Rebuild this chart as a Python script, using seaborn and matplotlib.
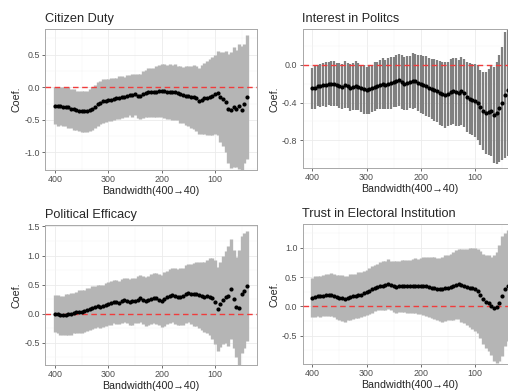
import numpy as np
import pandas as pd
import matplotlib
matplotlib.use("Agg")
import matplotlib.pyplot as plt
from matplotlib.ticker import FixedLocator, FormatStrFormatter
import seaborn as sns

# bandwidth grid, 400 -> 40
bandwidth = list(range(400, 35, -5))

duty_coef = [-0.28, -0.29, -0.29, -0.30, -0.30, -0.31, -0.33, -0.34, -0.35, -0.36,
             -0.37, -0.37, -0.37, -0.35, -0.33, -0.30, -0.26, -0.24, -0.21, -0.21,
             -0.20, -0.19, -0.18, -0.17, -0.16, -0.15, -0.15, -0.13, -0.12, -0.12,
             -0.11, -0.13, -0.14, -0.11, -0.09, -0.08, -0.08, -0.08, -0.07, -0.06,
             -0.05, -0.06, -0.07, -0.07, -0.08, -0.08, -0.09, -0.11, -0.12, -0.13,
             -0.14, -0.15, -0.15, -0.17, -0.21, -0.19, -0.17, -0.16, -0.15, -0.13,
             -0.11, -0.09, -0.15, -0.18, -0.22, -0.33, -0.35, -0.30, -0.33, -0.29,
             -0.35, -0.25, -0.15]
duty_ci = [0.29, 0.30, 0.29, 0.30, 0.30, 0.31, 0.30, 0.31, 0.30, 0.31,
           0.31, 0.31, 0.32, 0.32, 0.33, 0.33, 0.34, 0.33, 0.34, 0.33,
           0.32, 0.33, 0.33, 0.32, 0.33, 0.32, 0.31, 0.32, 0.31, 0.33,
           0.32, 0.34, 0.34, 0.36, 0.36, 0.37, 0.38, 0.38, 0.39, 0.40,
           0.40, 0.41, 0.41, 0.42, 0.42, 0.43, 0.42, 0.44, 0.43, 0.45,
           0.46, 0.47, 0.49, 0.50, 0.51, 0.53, 0.55, 0.57, 0.59, 0.60,
           0.61, 0.64, 0.69, 0.72, 0.78, 0.84, 0.89, 0.92, 0.90, 0.96,
           0.99, 0.91, 0.95]

interest_coef = [-0.25, -0.24, -0.22, -0.22, -0.21, -0.21, -0.20, -0.20, -0.20, -0.21,
                 -0.22, -0.23, -0.21, -0.22, -0.24, -0.23, -0.22, -0.23, -0.25, -0.26,
                 -0.27, -0.26, -0.25, -0.23, -0.22, -0.21, -0.20, -0.21, -0.20, -0.19,
                 -0.18, -0.17, -0.16, -0.18, -0.20, -0.19, -0.18, -0.17, -0.17, -0.19,
                 -0.20, -0.21, -0.22, -0.24, -0.26, -0.27, -0.28, -0.30, -0.31, -0.32,
                 -0.31, -0.29, -0.28, -0.29, -0.30, -0.28, -0.30, -0.34, -0.36, -0.37,
                 -0.38, -0.40, -0.45, -0.49, -0.51, -0.50, -0.49, -0.53, -0.51, -0.46,
                 -0.41, -0.32, -0.27]
interest_ci = [0.22, 0.23, 0.22, 0.23, 0.23, 0.24, 0.23, 0.24, 0.24, 0.23,
               0.24, 0.24, 0.25, 0.24, 0.25, 0.25, 0.26, 0.25, 0.25, 0.26,
               0.25, 0.26, 0.25, 0.26, 0.25, 0.26, 0.27, 0.26, 0.27, 0.28,
               0.27, 0.28, 0.28, 0.29, 0.28, 0.29, 0.28, 0.30, 0.29, 0.30,
               0.31, 0.31, 0.32, 0.31, 0.32, 0.33, 0.33, 0.34, 0.34, 0.35,
               0.34, 0.35, 0.35, 0.36, 0.35, 0.36, 0.36, 0.37, 0.38, 0.38,
               0.39, 0.40, 0.40, 0.42, 0.44, 0.46, 0.48, 0.51, 0.54, 0.57,
               0.60, 0.67, 0.70]

efficacy_coef = [0.00, -0.01, -0.03, -0.03, -0.02, -0.01, 0.00, 0.01, 0.02, 0.03,
                 0.03, 0.05, 0.07, 0.08, 0.10, 0.12, 0.13, 0.12, 0.13, 0.15,
                 0.17, 0.18, 0.20, 0.20, 0.19, 0.21, 0.24, 0.22, 0.20, 0.21,
                 0.22, 0.24, 0.26, 0.23, 0.21, 0.23, 0.25, 0.27, 0.26, 0.24,
                 0.22, 0.25, 0.28, 0.30, 0.32, 0.30, 0.28, 0.29, 0.30, 0.33,
                 0.36, 0.34, 0.33, 0.33, 0.32, 0.30, 0.28, 0.30, 0.29, 0.26,
                 0.20, 0.08, 0.16, 0.24, 0.28, 0.30, 0.42, 0.25, 0.12, 0.10,
                 0.33, 0.39, 0.47]
efficacy_ci = [0.32, 0.33, 0.34, 0.34, 0.35, 0.35, 0.36, 0.35, 0.36, 0.37,
               0.37, 0.36, 0.37, 0.36, 0.37, 0.36, 0.36, 0.37, 0.36, 0.37,
               0.37, 0.38, 0.37, 0.38, 0.37, 0.38, 0.38, 0.39, 0.39, 0.40,
               0.39, 0.40, 0.40, 0.41, 0.42, 0.42, 0.43, 0.43, 0.44, 0.44,
               0.45, 0.46, 0.46, 0.47, 0.47, 0.48, 0.48, 0.49, 0.49, 0.50,
               0.50, 0.52, 0.54, 0.55, 0.57, 0.58, 0.60, 0.63, 0.66, 0.69,
               0.72, 0.73, 0.73, 0.76, 0.79, 0.86, 0.86, 0.85, 0.86, 1.00,
               1.00, 0.99, 0.95]

trust_coef = [0.15, 0.16, 0.18, 0.17, 0.18, 0.19, 0.19, 0.20, 0.18, 0.16,
              0.15, 0.14, 0.13, 0.14, 0.16, 0.17, 0.18, 0.19, 0.20, 0.22,
              0.24, 0.26, 0.29, 0.31, 0.33, 0.34, 0.35, 0.36, 0.38, 0.36,
              0.34, 0.33, 0.34, 0.35, 0.35, 0.34, 0.34, 0.35, 0.35, 0.34,
              0.35, 0.35, 0.34, 0.33, 0.32, 0.31, 0.30, 0.29, 0.29, 0.31,
              0.32, 0.33, 0.35, 0.37, 0.38, 0.36, 0.34, 0.33, 0.32, 0.31,
              0.29, 0.26, 0.20, 0.13, 0.08, 0.06, 0.01, -0.03, -0.02, 0.06,
              0.18, 0.29, 0.35]
trust_ci = [0.34, 0.35, 0.34, 0.35, 0.35, 0.36, 0.36, 0.37, 0.37, 0.38,
            0.38, 0.39, 0.39, 0.38, 0.39, 0.38, 0.38, 0.39, 0.38, 0.39,
            0.38, 0.39, 0.40, 0.39, 0.40, 0.41, 0.42, 0.42, 0.43, 0.42,
            0.43, 0.44, 0.43, 0.44, 0.44, 0.45, 0.45, 0.46, 0.47, 0.47,
            0.48, 0.49, 0.50, 0.51, 0.52, 0.53, 0.53, 0.54, 0.55, 0.56,
            0.56, 0.57, 0.58, 0.59, 0.60, 0.62, 0.63, 0.65, 0.67, 0.69,
            0.71, 0.72, 0.74, 0.77, 0.80, 0.82, 0.84, 0.90, 0.95, 0.99,
            1.02, 0.97, 0.95]

titles = ["Citizen Duty", "Interest in Politcs",
          "Political Efficacy", "Trust in Electoral Institution"]

sns.set_theme(style="white")
plt.rcParams['font.family'] = ['Liberation Sans', 'DejaVu Sans']
plt.rcParams['axes.unicode_minus'] = False

W, H = 508, 392


def px_box(left, top, right, bottom):
    return [left / W, 1 - bottom / H, (right - left) / W, (bottom - top) / H]


def plot_panel(ax, title, coef, ci, ylim, yticks, bar_color, bar_lw):
    df = pd.DataFrame({"bw": bandwidth, "coef": coef, "ci": ci})
    df["lo"] = df["coef"] - df["ci"]
    df["hi"] = df["coef"] + df["ci"]

    ax.vlines(df["bw"], df["lo"], df["hi"], color=bar_color, lw=bar_lw, zorder=2)
    ax.axhline(0, color="#f03c3c", lw=1.0, dashes=(4, 2.6), zorder=3)
    sns.scatterplot(data=df, x="bw", y="coef", ax=ax, color="black", s=9,
                    linewidth=0, zorder=4, legend=False)

    ax.set_xlim(418, 22)
    ax.set_ylim(*ylim)
    ax.xaxis.set_major_locator(FixedLocator([400, 300, 200, 100]))
    ax.xaxis.set_minor_locator(FixedLocator([350, 250, 150, 50]))
    ax.yaxis.set_major_locator(FixedLocator(yticks))
    step = yticks[1] - yticks[0]
    ax.yaxis.set_minor_locator(FixedLocator([t + step / 2 for t in [yticks[0] - step] + yticks]))
    ax.yaxis.set_major_formatter(FormatStrFormatter("%.1f"))
    ax.grid(which="major", color="#ebebeb", lw=0.6)
    ax.grid(which="minor", color="#f3f3f3", lw=0.35)
    ax.set_axisbelow(True)
    for s in ax.spines.values():
        s.set_color("#a8a8a8")
        s.set_linewidth(0.7)
    ax.tick_params(which="major", length=2.2, width=0.6, color="#555555",
                   labelsize=6.4, labelcolor="#4d4d4d", pad=1.5,
                   bottom=True, left=True)
    ax.tick_params(which="minor", length=0)
    ax.set_title(title, loc="left", fontsize=9.2, pad=5.5)
    ax.set_xlabel("Bandwidth(400\u219240)", fontsize=7.7, labelpad=1)
    ax.set_ylabel("Coef.", fontsize=7.7, labelpad=2)


fig = plt.figure(figsize=(W / 100, H / 100), dpi=100)
fig.patch.set_facecolor("white")

axes = [
    fig.add_axes(px_box(45.4, 29.3, 256.6, 170.0)),
    fig.add_axes(px_box(302.5, 29.3, 517.3, 168.3)),
    fig.add_axes(px_box(45.4, 225.3, 256.6, 365.3)),
    fig.add_axes(px_box(302.5, 224.3, 517.3, 364.3)),
]

plot_panel(axes[0], titles[0], duty_coef, duty_ci, (-1.27, 0.89),
           [-1.0, -0.5, 0.0, 0.5], "#b5b5b5", 2.4)
plot_panel(axes[1], titles[1], interest_coef, interest_ci, (-1.10, 0.38),
           [-0.8, -0.4, 0.0], "#808080", 1.6)
plot_panel(axes[2], titles[2], efficacy_coef, efficacy_ci, (-0.89, 1.52),
           [-0.5, 0.0, 0.5, 1.0, 1.5], "#b5b5b5", 2.4)
plot_panel(axes[3], titles[3], trust_coef, trust_ci, (-0.99, 1.40),
           [-0.5, 0.0, 0.5, 1.0], "#b5b5b5", 2.4)

fig.savefig("out.png", dpi=100)
